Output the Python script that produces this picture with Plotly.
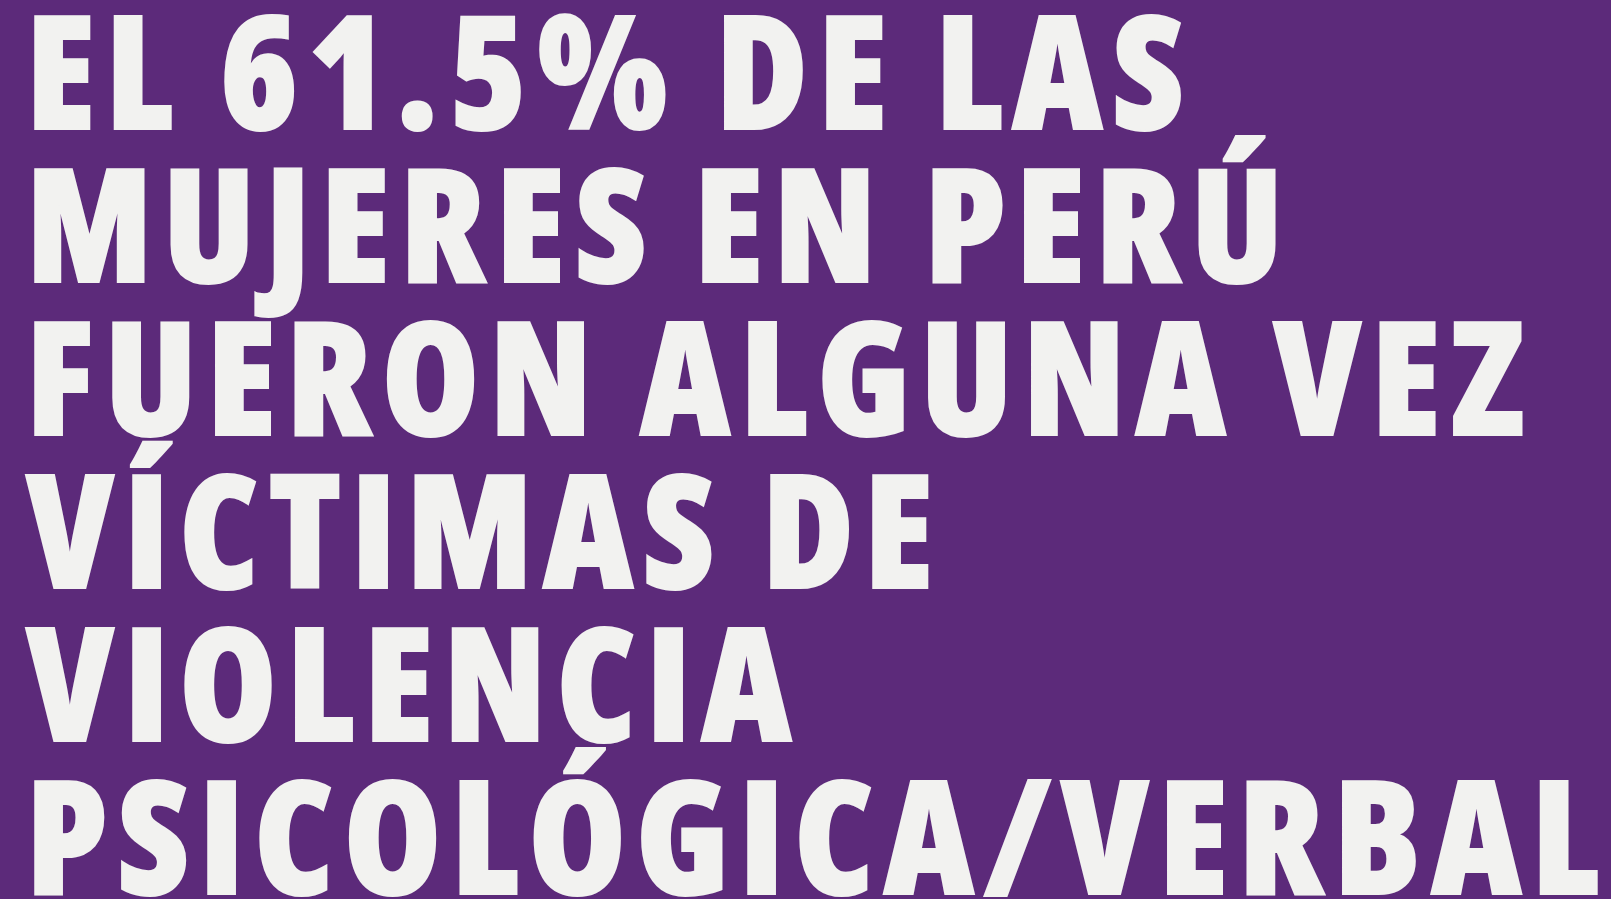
import plotly.graph_objects as go

# Text content of the graphic (one entry per line)
lines = [
    "EL 61.5% DE LAS",
    "MUJERES EN PERÚ",
    "FUERON ALGUNA VEZ",
    "VÍCTIMAS DE",
    "VIOLENCIA",
    "PSICOLÓGICA/VERBAL",
]
percent_value = 61.5

W, H = 1611, 899
bg_color = "#5c2a7a"
text_color = "#f2f2f0"
font_family = "Open Sans"
font_size = 157
first_center_px = 68.5
line_pitch_px = 152.8
left_px = 24
letter_spacing_px = 10
stroke_px = 2

annotations = []
for i, line in enumerate(lines):
    cy = first_center_px + i * line_pitch_px
    annotations.append(dict(
        text=line, xref="paper", yref="paper",
        x=left_px / W, y=1 - cy / H,
        xanchor="left", yanchor="middle", align="left",
        showarrow=False,
        font=dict(family=font_family, size=font_size, color=text_color, weight=800),
    ))

fig = go.Figure()
fig.update_layout(
    width=W, height=H,
    margin=dict(l=0, r=0, t=0, b=0),
    paper_bgcolor=bg_color, plot_bgcolor=bg_color,
    xaxis=dict(visible=False), yaxis=dict(visible=False),
    annotations=annotations,
    showlegend=False,
)

post = """
document.body.style.margin = '0';
document.body.style.overflow = 'hidden';
var css = document.createElement('style');
css.textContent = '.annotation-text{font-stretch:condensed;letter-spacing:%dpx;stroke:%s;stroke-width:%dpx;stroke-linejoin:miter;}';
document.head.appendChild(css);
var gd = document.getElementById('{plot_id}');
var upd = {};
gd.layout.annotations.forEach(function(a, i){ upd['annotations[' + i + '].text'] = a.text; });
Plotly.relayout(gd, upd);
""" % (letter_spacing_px, text_color, stroke_px)

fig.write_html("out.html", post_script=post, config={"displayModeBar": False})
